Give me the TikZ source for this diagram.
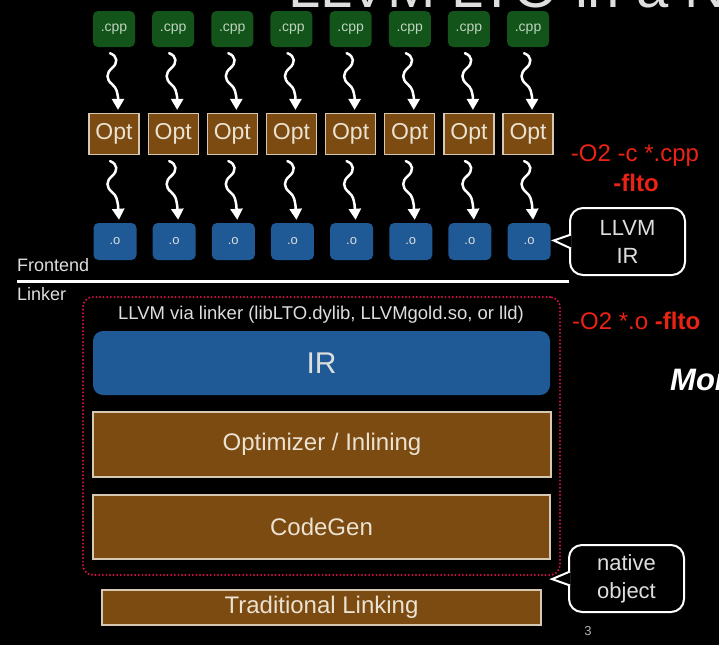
\documentclass[tikz,border=0pt]{standalone}
\usepackage{fontspec}
\setmainfont{Liberation Sans}
\usetikzlibrary{calc,arrows.meta}

\definecolor{cppgreen}{RGB}{18,84,26}
\definecolor{cpptext}{RGB}{190,212,190}
\definecolor{optbrown}{RGB}{123,75,17}
\definecolor{optedge}{RGB}{214,200,178}
\definecolor{opttext}{RGB}{236,226,210}
\definecolor{irblue}{RGB}{31,90,150}
\definecolor{flagred}{RGB}{235,35,20}
\definecolor{ltored}{RGB}{212,18,72}
\definecolor{softgray}{RGB}{222,222,222}

\newcommand{\fsz}[2]{\fontsize{#1}{#2}\selectfont}

\tikzset{
  cppbox/.style={fill=cppgreen,rounded corners=5pt,minimum width=42pt,minimum height=36pt,inner sep=0pt,text=cpptext,font=\fsz{14}{16}},
  optbox/.style={fill=optbrown,draw=optedge,line width=1.2pt,minimum width=50pt,minimum height=41pt,inner sep=0pt,text=opttext,font=\fsz{23}{25}},
  objbox/.style={fill=irblue,rounded corners=5pt,minimum width=43pt,minimum height=37pt,inner sep=0pt,text=softgray,font=\fsz{13}{15}},
  stagebox/.style={fill=optbrown,draw=optedge,line width=1.2pt,inner sep=0pt,text=opttext,font=\fsz{24}{26}},
  squig/.style={white,line width=2.5pt,line cap=round,-{Triangle[width=12pt,length=11pt]},
    to path={(\tikztostart) .. controls +(8,3) and +(6,-5) .. ++(2,15)
      .. controls +(-6,5) and +(-6,-5) .. ++(0,16)
      .. controls +(5,4) and +(-1,-5) .. ++(6,13) -- (\tikztotarget)}},
  note/.style={draw=white,line width=2pt,fill=black,rounded corners=13pt,minimum width=115pt,minimum height=67pt,align=center,text=softgray,font=\fsz{22}{28}},
  flag/.style={text=flagred,font=\fsz{24}{26}},
  label/.style={text=softgray,font=\fsz{18}{20}}
}

\begin{document}
\begin{tikzpicture}[x=1pt,y=-1pt]
%BACKGROUND
\fill[black] (0,0) rectangle (719,645);
\useasboundingbox (0,0) rectangle (719,645);
\begin{scope}
\clip (0,0) rectangle (719,645);
\node[anchor=base west,inner sep=0pt,text=softgray,font=\fsz{58}{60}] (title) at (288,8) {LLVM LTO in a Nutshell};
\node[anchor=base west,inner sep=0pt,text=white,font=\fsz{31}{33}\bfseries\itshape] (more) at (670,390) {More};
\end{scope}

%FRONTEND
\foreach \i in {1,...,8}{
  \node[cppbox] (cpp\i) at ({114+59.15*(\i-1)},29) {.cpp};
  \node[optbox] (opt\i) at ({114+59.15*(\i-1)},134) {Opt};
  \node[objbox] (o\i) at ({115+59.15*(\i-1)},241.5) {.o};
  \draw[squig] ($(cpp\i.south)+(-4,6)$) to ($(opt\i.north)+(4,-3)$);
  \draw[squig] ($(opt\i.south)+(-4,6)$) to ($(o\i.north)+(4,-3)$);
}
\node[flag] (cflags) at (635,156) {-O2 -c *.cpp};
\node[flag,font=\fsz{24}{26}\bfseries] (cflto) at (636,183) {-flto};

\node[note] (irnote) at (627.5,241.5) {LLVM\\IR};
\draw[white,line width=2pt,fill=black] ($(irnote.west)+(2,-7)$) -- ($(o8.east)+(3,-1)$) -- ($(irnote.west)+(2,7)$);

%SPLIT
\node[label,anchor=west,inner sep=0pt] (fe) at (17,265) {Frontend};
\draw[white,line width=3pt] (17,281) -- (569,281);
\node[label,anchor=west,inner sep=0pt] (lk) at (17,294) {Linker};

%LINKER
\node[draw=ltored,line width=2.2pt,line cap=round,dash pattern=on 0pt off 3.6pt,rounded corners=10pt,minimum width=477pt,minimum height=278pt,inner sep=0pt] (ltobox) at (321.5,436) {};
\node[text=softgray,font=\fsz{18.5}{20}] (via) at (321,315) {LLVM via linker (libLTO.dylib, LLVMgold.so, or lld)};
\node[fill=irblue,rounded corners=10pt,minimum width=457pt,minimum height=64pt,inner sep=0pt,text=softgray,font=\fsz{30}{32}] (ir) at (321.5,363) {IR};
\node[stagebox,minimum width=458pt,minimum height=65pt] (inl) at (322,444.5) {Optimizer / Inlining};
\node[stagebox,minimum width=457pt,minimum height=64pt] (cg) at (321.5,527) {CodeGen};
\node[stagebox,minimum width=439pt,minimum height=35pt] (trad) at (321.5,607.5) {Traditional Linking};
\node[flag,anchor=west,inner sep=0pt] (lflags) at (572,321) {-O2 *.o \textbf{-flto}};

\node[note] (objnote) at (626.5,578.5) {native\\object};
\draw[white,line width=2pt,fill=black] ($(objnote.west)+(2,-7)$) -- ($(ltobox.south east)+(-9,3)$) -- ($(objnote.west)+(2,7)$);

\node[text=softgray!80!black,font=\fsz{13}{15}] (page) at (588,631) {3};
\end{tikzpicture}
\end{document}
